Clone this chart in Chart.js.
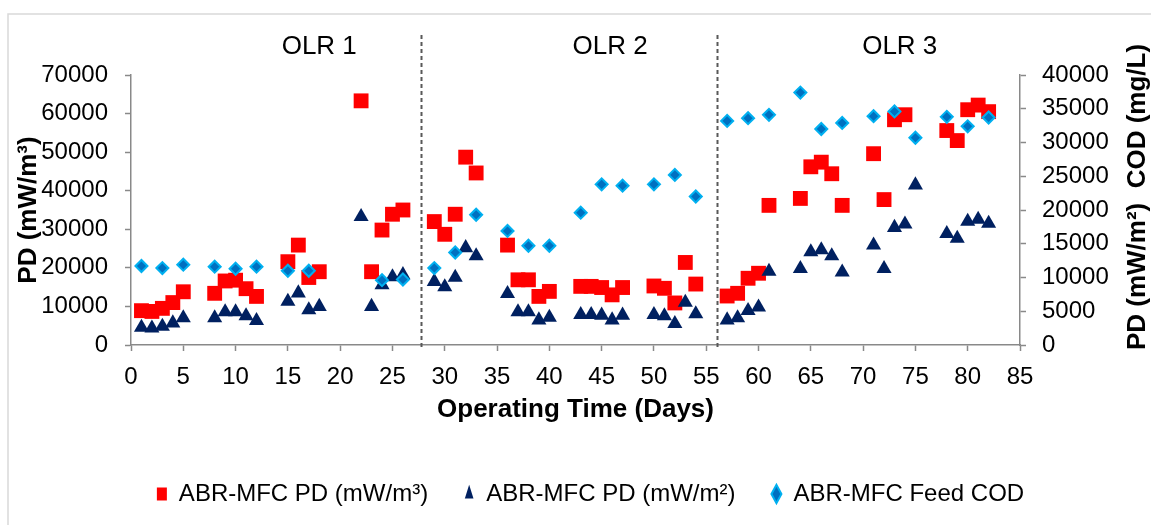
<!DOCTYPE html>
<html>
<head>
<meta charset="utf-8">
<script src="https://cdn.jsdelivr.net/npm/chart.js@4.4.1/dist/chart.umd.min.js"></script>
<style>
    html, body { margin: 0; padding: 0; background: #fff; }
    #wrap { width: 1151px; height: 525px; }
</style>
</head>
<body>
<div id="wrap"><canvas id="myChart" width="1151" height="525"></canvas></div>
<script>
// days for the two power density series (triangles have one extra point on day 75)
let pdDays = [1, 2, 3, 4, 5, 8, 9, 10, 11, 12, 15, 16, 17, 18, 22, 23, 24, 25, 26,
    29, 30, 31, 32, 33, 36, 37, 38, 39, 40, 43, 44, 45, 46, 47, 50, 51, 52, 53, 54,
    57, 58, 59, 60, 61, 64, 65, 66, 67, 68, 71, 72, 73, 74, 78, 79, 80, 81, 82];
let pdVolume = [8900, 8700, 9500, 11000, 13800, 13400, 16600, 16800, 14600, 12600, 21600, 25900, 17500, 19000, 63300, 19000, 29800, 33900, 35000,
    32000, 28700, 33900, 48700, 44600, 25900, 16900, 16900, 12600, 13900, 15200, 15200, 14900, 13000, 14900, 15300, 14700, 10900, 21400, 15800,
    12700, 13400, 17300, 18600, 36200, 38000, 46200, 47400, 44400, 36200, 49600, 37700, 58400, 59700, 55600, 53000, 61000, 62200, 60500];

let areaDays = [1, 2, 3, 4, 5, 8, 9, 10, 11, 12, 15, 16, 17, 18, 22, 23, 24, 25, 26,
    29, 30, 31, 32, 33, 36, 37, 38, 39, 40, 43, 44, 45, 46, 47, 50, 51, 52, 53, 54,
    57, 58, 59, 60, 61, 64, 65, 66, 67, 68, 71, 72, 73, 74, 75, 78, 79, 80, 81, 82];
let pdArea = [2600, 2500, 2750, 3250, 4000, 4000, 4900, 4900, 4300, 3600, 6450, 7700, 5200, 5700, 19000, 5700, 8900, 10100, 10400,
    9400, 8600, 10000, 14400, 13200, 7600, 4900, 4900, 3700, 4100, 4500, 4500, 4400, 3700, 4400, 4500, 4300, 3150, 6300, 4600,
    3700, 4000, 5100, 5600, 10900, 11300, 13800, 14100, 13200, 10800, 14800, 11300, 17400, 17900, 23700, 16500, 15800, 18300, 18600, 18000];

let codDays = [1, 3, 5, 8, 10, 12, 15, 17, 24, 26, 29, 31, 33, 36, 38, 40, 43, 45, 47,
    50, 52, 54, 57, 59, 61, 64, 66, 68, 71, 73, 75, 78, 80, 82];
let feedCod = [11700, 11400, 11900, 11600, 11300, 11600, 11000, 11000, 9600, 9700, 11400, 13700, 19300, 16900, 14700, 14700, 19600, 23800, 23600,
    23800, 25200, 22000, 33200, 33600, 34100, 37400, 32000, 32900, 33900, 34600, 30700, 33800, 32400, 33700];

let seriesNames = ['ABR-MFC PD (mW/m³)', 'ABR-MFC PD (mW/m²)', 'ABR-MFC Feed COD'];
let olrNames = ['OLR 1', 'OLR 2', 'OLR 3'];
let olrCentres = [18, 45.8, 73.5];
let olrBreaks = [27.7, 56];

const FONT = '"Liberation Sans", Arial, sans-serif';
const AXIS_GREY = '#898989';

function toPoints(xs, ys){
    let out = [];
    for(let i = 0; i < xs.length; i++){
        out.push({x: xs[i], y: ys[i]});
    }
    return out;
}

// plain numbers, no thousands separator
function plainTick(value){
    return String(value);
}

// frame, OLR dividers + labels, and the right-hand title (reads bottom to top)
const extras = {
    id: 'extras',
    beforeDraw(chart){
        const ctx = chart.ctx;
        ctx.save();
        ctx.strokeStyle = '#d9d9d9';
        ctx.lineWidth = 1.5;
        ctx.beginPath();
        ctx.moveTo(8, 525);
        ctx.lineTo(8, 14);
        ctx.lineTo(1151, 14);
        ctx.stroke();
        ctx.restore();
    },
    afterDatasetsDraw(chart){
        const ctx = chart.ctx;
        const xs = chart.scales.x;
        const area = chart.chartArea;
        ctx.save();
        ctx.strokeStyle = '#595959';
        ctx.lineWidth = 2;
        ctx.setLineDash([4, 3]);
        olrBreaks.forEach(function(d){
            let px = Math.round(xs.getPixelForValue(d)) + 0.5;
            ctx.beginPath();
            ctx.moveTo(px, 35);
            ctx.lineTo(px, area.bottom + 4);
            ctx.stroke();
        });
        ctx.setLineDash([]);
        ctx.fillStyle = '#000';
        ctx.font = '26px ' + FONT;
        ctx.textAlign = 'center';
        ctx.textBaseline = 'middle';
        olrNames.forEach(function(name, i){
            ctx.fillText(name, xs.getPixelForValue(olrCentres[i]), 47);
        });
        ctx.translate(1138, 197);
        ctx.rotate(-Math.PI / 2);
        ctx.font = 'bold 26px ' + FONT;
        ctx.fillText('PD (mW/m²)  COD (mg/L)', 0, 0);
        ctx.restore();
    }
};

let ctx = document.getElementById('myChart').getContext('2d');
let config = {
    type: 'scatter',
    data: {
        datasets: [{
            label: seriesNames[0],
            data: toPoints(pdDays, pdVolume),
            yAxisID: 'y',
            pointStyle: 'rect',
            pointRadius: 10.5,
            backgroundColor: '#ff0000',
            borderColor: '#ff0000',
            borderWidth: 0,
            order: 3
        }, {
            label: seriesNames[1],
            data: toPoints(areaDays, pdArea),
            yAxisID: 'y1',
            pointStyle: 'triangle',
            pointRadius: 8.7,
            backgroundColor: '#002060',
            borderColor: '#002060',
            borderWidth: 0,
            order: 2
        }, {
            label: seriesNames[2],
            data: toPoints(codDays, feedCod),
            yAxisID: 'y1',
            pointStyle: 'rectRot',
            pointRadius: 6,
            backgroundColor: '#0070c0',
            borderColor: '#00b0f0',
            borderWidth: 2,
            order: 1
        }]
    },
    options: {
        responsive: false,
        animation: false,
        layout: {padding: {left: 30, right: 0, top: 75, bottom: 9}},
        plugins: {
            tooltip: {enabled: false},
            legend: {
                position: 'bottom',
                labels: {
                    font: {family: FONT, size: 24},
                    color: '#000',
                    usePointStyle: true,
                    boxHeight: 13,
                    pointStyleWidth: 10,
                    padding: 36,
                    sort: function(a, b){ return a.datasetIndex - b.datasetIndex; }
                }
            }
        },
        scales: {
            x: {
                type: 'linear',
                min: 0,
                max: 85,
                afterFit: function(scale){ scale.height = 101; },
                ticks: {stepSize: 5, padding: 12, color: '#000', font: {family: FONT, size: 24}, callback: plainTick},
                grid: {drawOnChartArea: false, tickLength: 6, color: AXIS_GREY, tickWidth: 1.5},
                border: {color: AXIS_GREY, width: 1.5},
                title: {
                    display: true,
                    text: 'Operating Time (Days)',
                    color: '#000',
                    font: {family: FONT, size: 26, weight: 'bold'},
                    padding: {top: 0, bottom: 21}
                }
            },
            y: {
                position: 'left',
                min: 0,
                max: 70000,
                afterFit: function(scale){ scale.width = 101; },
                ticks: {stepSize: 10000, padding: 17, color: '#000', font: {family: FONT, size: 24}, callback: plainTick},
                grid: {drawOnChartArea: false, tickLength: 6, color: AXIS_GREY, tickWidth: 1.5},
                border: {color: AXIS_GREY, width: 1.5},
                title: {
                    display: true,
                    text: 'PD (mW/m³)',
                    color: '#000',
                    font: {family: FONT, size: 26, weight: 'bold'},
                    padding: {top: -17, bottom: 0}
                }
            },
            y1: {
                position: 'right',
                min: 0,
                max: 40000,
                afterFit: function(scale){ scale.width = 131; },
                ticks: {stepSize: 5000, padding: 16, color: '#000', font: {family: FONT, size: 24}, callback: plainTick},
                grid: {drawOnChartArea: false, tickLength: 6, color: AXIS_GREY, tickWidth: 1.5},
                border: {color: AXIS_GREY, width: 1.5}
            }
        }
    },
    plugins: [extras]
};
let myChart = new Chart(ctx, config);
</script>
</body>
</html>
